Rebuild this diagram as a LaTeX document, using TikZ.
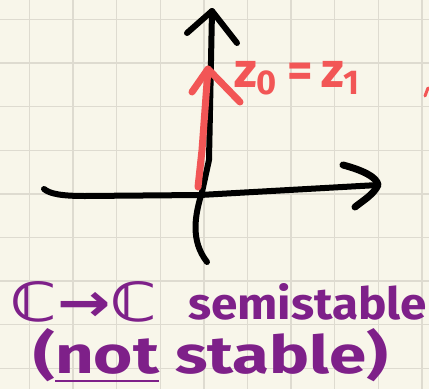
\documentclass[tikz,border=0pt]{standalone}
\usepackage{fontspec}
\setmainfont{Fira Sans}
\newfontfamily\dejavu{DejaVu Sans}
\usetikzlibrary{arrows.meta}
\definecolor{paper}{HTML}{F8F6EA}
\definecolor{gridc}{HTML}{DEDBD0}
\definecolor{penred}{HTML}{F25656}
\definecolor{penpurple}{HTML}{7E2089}
\begin{document}
\begin{tikzpicture}[x=1pt,y=-1pt,
  ink/.style={line width=6pt, line cap=round, line join=round},
  redink/.style={penred, line width=7pt, line cap=round, line join=round},
  gridline/.style={gridc, line width=1.4pt},
  purp/.style={text=penpurple, inner sep=0pt, font=\bfseries}]
\fill[paper] (0,0) rectangle (429,389);
\useasboundingbox (0,0) rectangle (429,389);
% grid
\foreach \i in {0,...,9} \draw[gridline] ({29.5+43.6*\i},0) -- ++(0,389);
\foreach \i in {0,...,8} \draw[gridline] (0,{19.5+43.6*\i}) -- ++(429,0);
% axes
\coordinate (ytop) at (212,11);
\coordinate (ybot) at (207,262);
\coordinate (xleft) at (44,189);
\coordinate (xright) at (378,185);
\draw[ink] (ytop) -- (209,160) -- (202,192) .. controls (195,215) and (190,240) .. (ybot);
\draw[ink] (187,33) -- (ytop) -- (237,43);
\draw[ink] (xleft) .. controls (50,194) and (62,196) .. (85,196) -- (200,195) -- (xright);
\draw[ink, line width=7pt] (343,165) .. controls (362,170) and (377,177) .. (xright) .. controls (374,194) and (364,200) .. (355,207);
% red arrow
\coordinate (rbot) at (198,187);
\coordinate (rtop) at (208,69);
\draw[redink] (rbot) -- (202,150) -- (rtop);
\draw[redink] (192,92) -- (rtop) -- (240,102);
\node[text=penred, inner sep=0pt, anchor=west, font=\bfseries] (lab) at (234,78)
  {\resizebox{128pt}{!}{z\textsubscript{0}\,=\,z\textsubscript{1}}};
\draw[penred, line width=3pt, line cap=round] (425,96) -- (428,88);
% purple text
\node[purp, anchor=base west] (cc) at (10,321) {\resizebox{147pt}{40pt}{\dejavu\bfseries ℂ→ℂ}};
\node[purp, anchor=base west] (semi) at (188,319) {\resizebox{239pt}{36pt}{semistable}};
\node[purp, anchor=base west] (notst) at (33,373) {\resizebox{355pt}{45pt}{(\underline{not} stable)}};
\end{tikzpicture}
\end{document}
